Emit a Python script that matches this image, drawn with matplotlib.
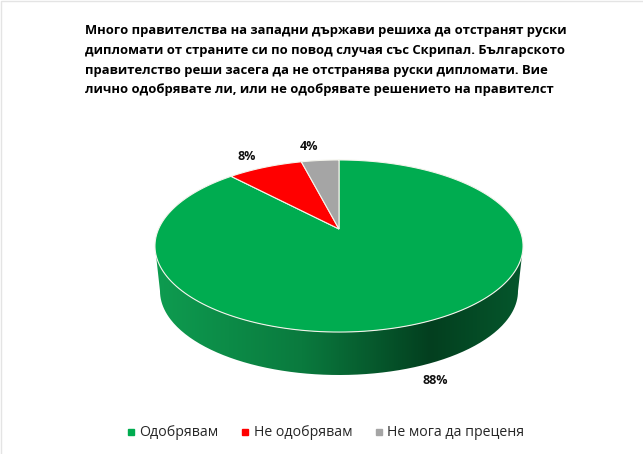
import numpy as np
import matplotlib
matplotlib.use("Agg")
import matplotlib.pyplot as plt
from matplotlib.colors import LinearSegmentedColormap
from matplotlib.lines import Line2D
from matplotlib.path import Path
from matplotlib.patches import PathPatch

plt.rcParams['font.family'] = ['Open Sans', 'DejaVu Sans']

title_lines = [
    "Много правителства на западни държави решиха да отстранят руски",
    "дипломати от страните си по повод случая със Скрипал. Българското",
    "правителство реши засега да не отстранява руски дипломати. Вие",
    "лично одобрявате ли, или не одобрявате решението на правителст",
]
categories = ["Одобрявам", "Не одобрявам", "Не мога да преценя"]
values = [88, 8, 4]
colors = ["#00AC50", "#FF0000", "#A5A5A5"]
label_pos = [(435, 381), (247, 157), (309, 147)]

# pie geometry in pixels, the top face is drawn with a bit of perspective
cx, cy = 339, 229
persp = 0.1977
k_x, k_y = 180.4, -37.4


def project(u, v):
    d = 1 + persp * v
    return cx + k_x * u / d, (k_y * v + cy) / d


fig = plt.figure(figsize=(6.43, 4.54), dpi=100)
ax = fig.add_axes([0, 0, 1, 1])

wedges, _ = ax.pie(values, colors=colors, startangle=90, counterclock=False)

ax.axis("off")

# side wall: gradient clipped to the outline of the lower part
t = np.radians(np.linspace(180, 360, 200))
top_x = 339 + 184 * np.cos(t)
top_y = 246 - 86 * np.sin(t)
bot_x = 339 + 179 * np.cos(t[::-1])
bot_y = 291 - 84 * np.sin(t[::-1])
outline = np.column_stack([np.r_[top_x, bot_x], np.r_[top_y, bot_y]])
side_cmap = LinearSegmentedColormap.from_list(
    "side", [(0, "#0E9C50"), (0.4, "#0A7A3E"), (0.75, "#033F1F"), (1, "#05572C")])
grad = np.linspace(0, 1, 256).reshape(1, -1)
im = ax.imshow(grad, cmap=side_cmap, extent=[155, 523, 380, 240], aspect="auto", zorder=1)
clip = PathPatch(Path(outline), transform=ax.transData, fc="none", ec="none")
ax.add_patch(clip)
im.set_clip_path(clip)
ax.set_xlim(0, 643)
ax.set_ylim(454, 0)

# top face
for w in wedges:
    w.set_visible(False)
    th = np.radians(np.linspace(w.theta1, w.theta2, 200))
    px, py = project(np.cos(th), np.sin(th))
    px = np.r_[cx, px]
    py = np.r_[cy, py]
    ax.fill(px, py, facecolor=w.get_facecolor(), edgecolor="#F4F4EC", lw=0.8, zorder=2)

for val, (lx, ly) in zip(values, label_pos):
    ax.text(lx, ly, f"{val}%", ha="center", va="center", fontsize=9,
            fontweight="bold", color="#111111", zorder=3)

for i, line in enumerate(title_lines):
    ax.text(85, 30.5 + i * 19.8, line, ha="left", va="center", fontsize=9.39,
            fontweight="bold", color="black")

handles = [Line2D([], [], ls="none", marker="s", ms=4, color=c) for c in colors]
fig.legend(handles, categories, loc="center", bbox_to_anchor=(0.506, 1 - 433 / 454), ncol=3,
           frameon=False, fontsize=10.2, labelcolor="#262626", handlelength=0.7,
           handletextpad=0.25, columnspacing=1.53)

# faint frame of the screenshot, only top and left show
ax.plot([0.5, 0.5, 642], [453, 0.5, 0.5], color="#E4E4E4", lw=1, zorder=5)
ax.set_xlim(0, 643)
ax.set_ylim(454, 0)

fig.savefig("out.png", dpi=100, facecolor="white")
